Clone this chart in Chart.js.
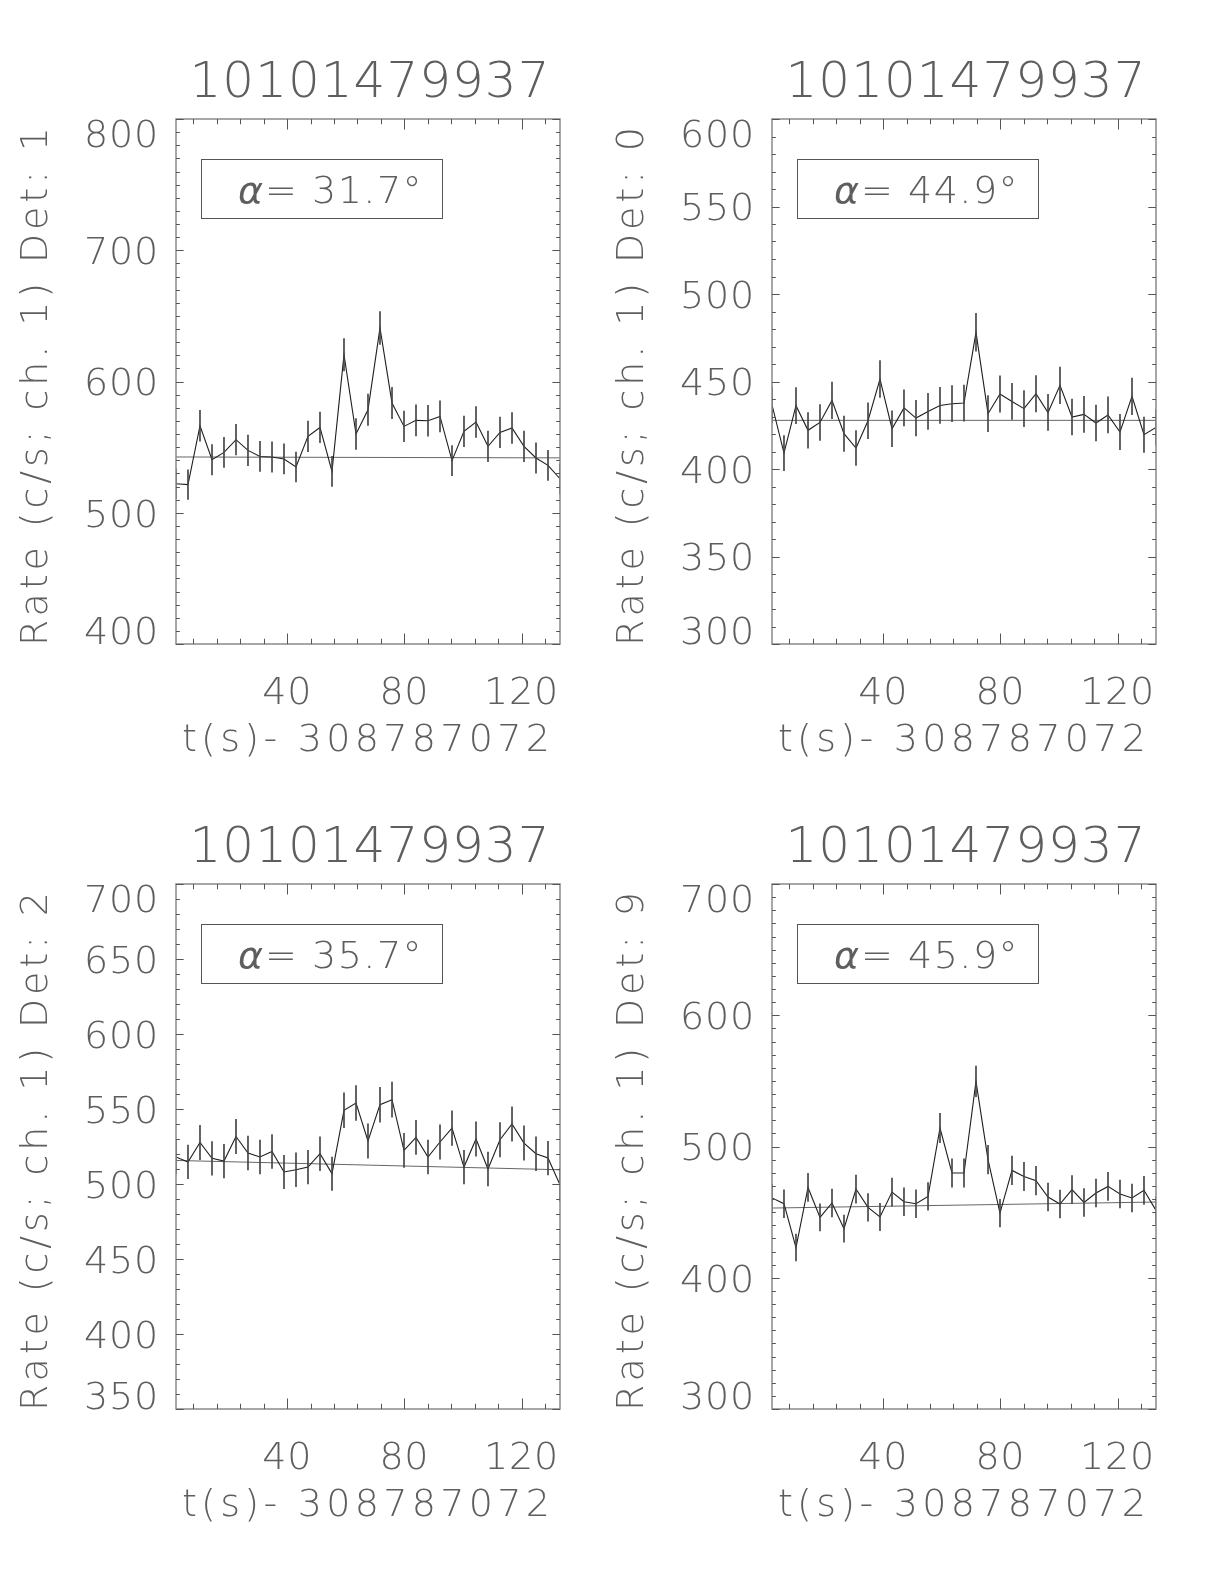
<!DOCTYPE html>
<html>
<head>
  <title>10101479937 light curves</title>
  <script src="https://cdn.jsdelivr.net/npm/chart.js"></script>
  <style>
    body { margin: 0; background: #fff; }
    #page { position: relative; width: 1224px; height: 1584px; background: #fff; }
    .panel { position: absolute; width: 600px; height: 780px; }
  </style>
</head>
<body>
<div id="page">
  <div class="panel" style="left:0px;top:0px"><canvas id="c0" width="600" height="780"></canvas></div>
  <div class="panel" style="left:596px;top:0px"><canvas id="c1" width="600" height="780"></canvas></div>
  <div class="panel" style="left:0px;top:765px"><canvas id="c2" width="600" height="780"></canvas></div>
  <div class="panel" style="left:596px;top:765px"><canvas id="c3" width="600" height="780"></canvas></div>
</div>

<script>
  // bin centres, seconds after 308787072
  const times = [2.05, 6.14, 10.24, 14.34, 18.43, 22.53, 26.62, 30.72, 34.82, 38.91, 43.01,
    47.10, 51.20, 55.30, 59.39, 63.49, 67.58, 71.68, 75.78, 79.87, 83.97, 88.06,
    92.16, 96.26, 100.35, 104.45, 108.54, 112.64, 116.74, 120.83, 124.93, 129.02, 133.12];

  const obsId = '10101479937';
  const xTitle = 't(s)- 308787072';
  const xTicks = [40, 80, 120];

  // Det 1
  const rate1 = [522.1, 521.4, 566.3, 540.4, 546.0, 555.7, 547.5, 542.9, 542.5, 541.0, 534.9,
    558.2, 565.0, 531.5, 620.4, 560.0, 578.5, 640.8, 583.6, 565.8, 570.4, 570.1,
    573.4, 539.7, 562.0, 569.1, 550.6, 561.2, 564.6, 550.6, 541.7, 536.1, 525.9];
  const err1 = [11.3, 11.3, 11.8, 11.5, 11.5, 11.6, 11.6, 11.5, 11.5, 11.5, 11.4,
    11.7, 11.7, 11.4, 12.3, 11.7, 11.9, 12.5, 11.9, 11.7, 11.8, 11.8,
    11.8, 11.5, 11.7, 11.8, 11.6, 11.7, 11.7, 11.6, 11.5, 11.4, 11.3];
  const fit1 = [542.5, 541.8];
  const yTicks1 = [400, 500, 600, 700, 800];

  // Det 0
  const rate0 = [436.7, 409.1, 436.2, 422.1, 426.6, 439.2, 420.2, 412.0, 427.6, 451.4, 423.0,
    434.9, 429.1, 432.9, 436.3, 437.3, 437.7, 478.1, 431.6, 442.9, 438.6, 434.5,
    443.0, 432.3, 447.8, 429.7, 431.2, 426.3, 430.9, 421.1, 441.5, 419.6, 423.8];
  const err0 = [10.3, 10.0, 10.3, 10.2, 10.2, 10.4, 10.1, 10.0, 10.2, 10.5, 10.2,
    10.3, 10.2, 10.3, 10.3, 10.3, 10.3, 10.8, 10.3, 10.4, 10.3, 10.3,
    10.4, 10.3, 10.5, 10.2, 10.3, 10.2, 10.3, 10.1, 10.4, 10.1, 10.2];
  const fit0 = [427.8, 427.8];
  const yTicks0 = [300, 350, 400, 450, 500, 550, 600];

  // Det 2
  const rate2 = [518.0, 514.7, 527.7, 517.1, 515.3, 531.7, 520.7, 518.0, 521.7, 508.0, 509.5,
    511.3, 520.2, 506.9, 549.1, 554.0, 528.7, 552.9, 556.2, 522.4, 531.1, 518.0,
    528.0, 537.3, 511.3, 530.0, 510.0, 529.5, 540.0, 527.3, 520.2, 517.3, 499.5];
  const err2 = [11.2, 11.2, 11.4, 11.2, 11.2, 11.4, 11.3, 11.2, 11.3, 11.1, 11.2,
    11.2, 11.3, 11.1, 11.6, 11.6, 11.4, 11.6, 11.7, 11.3, 11.4, 11.2,
    11.4, 11.5, 11.2, 11.4, 11.2, 11.4, 11.5, 11.4, 11.3, 11.2, 11.0];
  const fit2 = [515.7, 509.5];
  const yTicks2 = [350, 400, 450, 500, 550, 600, 650, 700];

  // Det 9
  const rate9 = [460.8, 456.4, 423.0, 468.8, 446.0, 457.0, 437.4, 467.6, 453.6, 446.3, 465.3,
    457.9, 456.4, 462.0, 514.1, 479.8, 479.8, 549.6, 490.0, 449.3, 481.8, 477.2,
    474.0, 461.5, 456.2, 467.1, 457.4, 464.6, 469.6, 463.8, 460.8, 466.6, 451.3];
  const err9 = [10.6, 10.6, 10.2, 10.7, 10.4, 10.6, 10.3, 10.7, 10.5, 10.4, 10.7,
    10.6, 10.6, 10.6, 11.2, 10.8, 10.8, 11.6, 10.9, 10.5, 10.9, 10.8,
    10.8, 10.6, 10.6, 10.7, 10.6, 10.6, 10.7, 10.6, 10.6, 10.7, 10.5];
  const fit9 = [453.1, 457.7];
  const yTicks9 = [300, 400, 500, 600, 700];

  const panels = [
    { id: 'c0', det: '1', alpha: '31.7', rate: rate1, err: err1, fit: fit1, yTicks: yTicks1, yMinor: 10 },
    { id: 'c1', det: '0', alpha: '44.9', rate: rate0, err: err0, fit: fit0, yTicks: yTicks0, yMinor: 10 },
    { id: 'c2', det: '2', alpha: '35.7', rate: rate2, err: err2, fit: fit2, yTicks: yTicks2, yMinor: 10 },
    { id: 'c3', det: '9', alpha: '45.9', rate: rate9, err: err9, fit: fit9, yTicks: yTicks9, yMinor: 10 }
  ];

  const FAM = '"DejaVu Sans", "Liberation Sans", sans-serif';
  const TXT = '#5e5e5e';
  const LBL = 38;

  function text(ctx, s, x, y, size, align, spacing, style) {
    ctx.font = (style || '') + ' 200 ' + size + 'px ' + FAM;
    ctx.letterSpacing = (spacing || 0) + 'px';
    ctx.textAlign = align;
    ctx.textBaseline = 'alphabetic';
    ctx.fillText(s, x, y + 0.364 * size);
  }

  // IDL-like frame: box, inward ticks on four sides, labels and titles
  const idlFrame = {
    id: 'idlFrame',
    afterDraw(chart, args, o) {
      const ctx = chart.ctx;
      const a = chart.chartArea;
      const xs = chart.scales.x, ys = chart.scales.y;
      ctx.save();

      ctx.strokeStyle = '#8a8a8a';
      ctx.lineWidth = 1.5;
      ctx.strokeRect(a.left, a.top, a.right - a.left, a.bottom - a.top);

      ctx.strokeStyle = '#555';
      ctx.lineWidth = 1;
      const xLen = 0.02 * (a.bottom - a.top), yLen = 0.02 * (a.right - a.left);
      ctx.beginPath();
      for (let v = Math.ceil(xs.min / 8) * 8; v <= xs.max; v += 8) {
        const px = Math.round(xs.getPixelForValue(v)) + 0.5;
        const len = v % 40 === 0 ? xLen : xLen / 2;
        ctx.moveTo(px, a.bottom); ctx.lineTo(px, a.bottom - len);
        ctx.moveTo(px, a.top); ctx.lineTo(px, a.top + len);
      }
      const major = o.yTicks[1] - o.yTicks[0];
      for (let v = ys.min; v <= ys.max + 1e-6; v += o.yMinor) {
        const py = Math.round(ys.getPixelForValue(v)) + 0.5;
        const len = Math.abs((v - ys.min) % major) < 1e-6 ? yLen : yLen / 2;
        ctx.moveTo(a.left, py); ctx.lineTo(a.left + len, py);
        ctx.moveTo(a.right, py); ctx.lineTo(a.right - len, py);
      }
      ctx.stroke();

      ctx.fillStyle = TXT;
      const half = 0.364 * LBL;
      o.yTicks.forEach(v => {
        let py = ys.getPixelForValue(v);
        py = Math.min(Math.max(py, a.top + half), a.bottom - half);
        text(ctx, String(v), a.left - 17, py, LBL, 'right', 0.8);
      });
      xTicks.forEach(v => {
        text(ctx, String(v), xs.getPixelForValue(v), a.bottom + 46, LBL, 'center', 0.8);
      });
      const cx = (a.left + a.right) / 2;
      text(ctx, xTitle, cx, a.bottom + 93, LBL, 'center', 4.3);
      text(ctx, obsId, cx + 2, a.top - 40, 50, 'center', 1);

      ctx.save();
      ctx.translate(a.left - 143, (a.top + a.bottom) / 2 + 3);
      ctx.rotate(-Math.PI / 2);
      text(ctx, 'Rate (c/s; ch. 1) Det: ' + o.det, 0, 0, LBL, 'center', 3.9);
      ctx.restore();

      // angle box
      ctx.strokeStyle = '#555';
      ctx.lineWidth = 1;
      ctx.strokeRect(a.left + 25.5, a.top + 40.5, 241, 59);
      const ty = a.top + 70;
      let tx = a.left + 62;
      ctx.font = 'italic 200 ' + LBL + 'px ' + FAM;
      ctx.letterSpacing = '0px';
      text(ctx, 'α', tx, ty, LBL, 'left', 0, 'italic');
      tx += ctx.measureText('α').width + 2;
      text(ctx, '= ' + o.alpha + '°', tx, ty, LBL, 'left', 1.5);
      ctx.restore();
    }
  };

  panels.forEach(p => {
    const last = times.length - 1;
    new Chart(document.getElementById(p.id), {
      type: 'line',
      data: {
        datasets: [
          {
            type: 'bar',
            data: times.map((t, i) => ({ x: t, y: [p.rate[i] - p.err[i], p.rate[i] + p.err[i]] })),
            backgroundColor: '#444',
            borderWidth: 0,
            barThickness: 1,
            grouped: false
          },
          {
            data: times.map((t, i) => ({ x: t, y: p.rate[i] })),
            borderColor: '#1e1e1e',
            borderWidth: 1.1,
            pointRadius: 0,
            tension: 0
          },
          {
            data: [{ x: times[0], y: p.fit[0] }, { x: times[last], y: p.fit[1] }],
            borderColor: '#666',
            borderWidth: 1,
            pointRadius: 0
          }
        ]
      },
      options: {
        responsive: false,
        animation: false,
        events: [],
        layout: { padding: { left: 176, top: 119, right: 40, bottom: 136 } },
        plugins: {
          legend: { display: false },
          tooltip: { enabled: false },
          idlFrame: { det: p.det, alpha: p.alpha, yTicks: p.yTicks, yMinor: p.yMinor }
        },
        scales: {
          x: { type: 'linear', display: false, offset: false, min: times[0], max: times[last] },
          y: { type: 'linear', display: false, min: p.yTicks[0], max: p.yTicks[p.yTicks.length - 1] }
        }
      },
      plugins: [idlFrame]
    });
  });
</script>
</body>
</html>
